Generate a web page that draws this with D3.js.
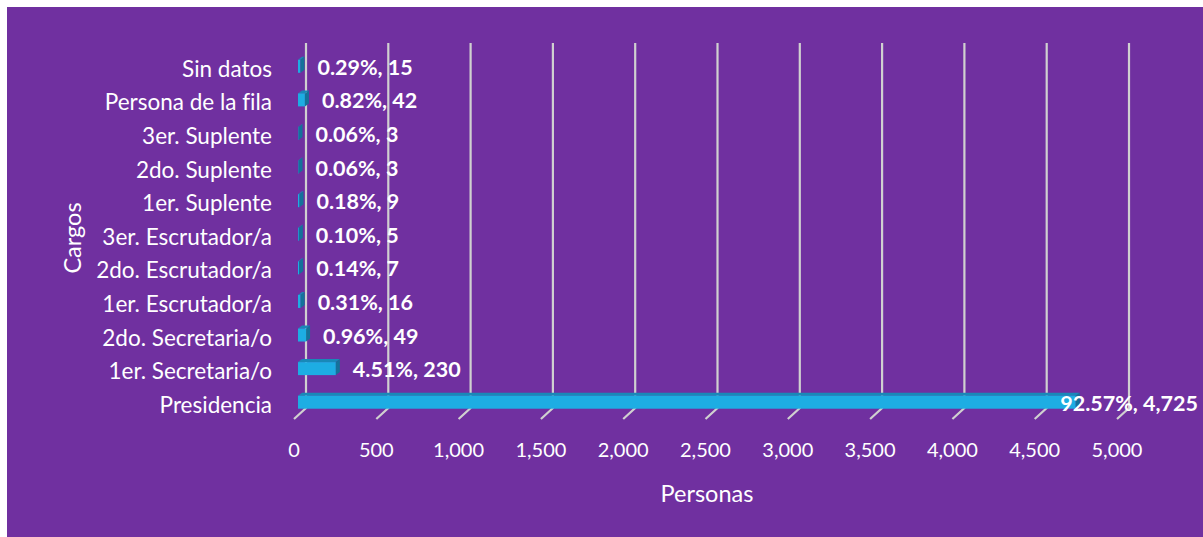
<!DOCTYPE html>
<html>
<head>
<meta charset="utf-8">
<script src="https://cdn.jsdelivr.net/npm/d3@7"></script>
<style>
  html, body { margin: 0; padding: 0; background: #ffffff; }
  svg { display: block; }
  text { font-family: Lato, "Open Sans", sans-serif; fill: #ffffff; font-variant-ligatures: none; font-feature-settings: "liga" 0; }
</style>
</head>
<body>
<svg id="chart" width="1203" height="537"></svg>
<script>
// ---- data ----
const categories = ["Sin datos", "Persona de la fila", "3er. Suplente", "2do. Suplente",
  "1er. Suplente", "3er. Escrutador/a", "2do. Escrutador/a", "1er. Escrutador/a",
  "2do. Secretaria/o", "1er. Secretaria/o", "Presidencia"];
const personas = [15, 42, 3, 3, 9, 5, 7, 16, 49, 230, 4725];
const xTicks = [0, 500, 1000, 1500, 2000, 2500, 3000, 3500, 4000, 4500, 5000];
const xTitle = "Personas";
const yTitle = "Cargos";

// ---- layout ----
const W = 1203, H = 537;
const svg = d3.select("#chart");
svg.append("rect").attr("x", 0).attr("y", 0).attr("width", W).attr("height", H).attr("fill", "#ffffff");
svg.append("rect").attr("x", 7).attr("y", 7).attr("width", W - 7).attr("height", H - 7).attr("fill", "#7030A0");

const x = d3.scaleLinear().domain([0, 5000]).range([0, 823]);
const y = d3.scaleBand().domain(categories).range([48, 417.5]).paddingInner(0).paddingOuter(0);

const backX = 306, frontX = 294, barX = 298;
const gridTop = 43, gridBottom = 408;
const depthX = 4, depthY = 3;   // bar 3D depth
const barH = 13;

const total = d3.sum(personas);
const pct = d3.format(".2%");
const num = d3.format(",");

// gridlines (back wall + floor stub)
const grid = svg.append("g");
xTicks.forEach(t => {
  const bx = backX + x(t);
  grid.append("path")
    .attr("d", `M${bx},${gridTop} L${bx},${gridBottom} L${bx - 12},${gridBottom + 11}`)
    .attr("fill", "none").attr("stroke", "#d0d0d0").attr("stroke-width", 2.2);
});

// tick labels
const ticks = svg.append("g");
xTicks.forEach(t => {
  ticks.append("text")
    .attr("x", frontX + x(t)).attr("y", 457)
    .attr("text-anchor", "middle")
    .style("font-size", "20px")
    .text(num(t));
});

// bars
const bars = svg.append("g");
categories.forEach((c, i) => {
  const v = personas[i];
  const cy = y(c) + y.bandwidth() / 2;
  const y0 = cy - barH / 2 + 1.5;
  const x0 = barX, x1 = barX + x(v);
  // top face
  bars.append("path")
    .attr("d", `M${x0},${y0} L${x0 + depthX},${y0 - depthY} L${x1 + depthX},${y0 - depthY} L${x1},${y0} Z`)
    .attr("fill", "#1889B8");
  // front face
  bars.append("rect")
    .attr("x", x0).attr("y", y0).attr("width", x(v)).attr("height", barH)
    .attr("fill", "#1DADE3");
  // side face
  bars.append("path")
    .attr("d", `M${x1},${y0} L${x1 + depthX},${y0 - depthY} L${x1 + depthX},${y0 + barH - depthY} L${x1},${y0 + barH} Z`)
    .attr("fill", "#14729A");
});

// category labels
const cats = svg.append("g");
categories.forEach(c => {
  cats.append("text")
    .attr("x", 272).attr("y", y(c) + y.bandwidth() / 2 + 3.5)
    .attr("text-anchor", "end").attr("dominant-baseline", "central")
    .style("font-size", "22.5px")
    .text(c);
});

// data labels
const labels = svg.append("g");
categories.forEach((c, i) => {
  const v = personas[i];
  const t = labels.append("text")
    .attr("y", y(c) + y.bandwidth() / 2 + 2)
    .attr("dominant-baseline", "central")
    .style("font-size", "21.5px").style("font-weight", "bold")
    .text(pct(v / total) + ", " + num(v));
  const w = t.node().getComputedTextLength();
  const pos = Math.min(barX + x(v) + depthX + 13, 1198 - w);
  t.attr("x", pos);
});

// axis titles
svg.append("text")
  .attr("x", 707).attr("y", 493)
  .attr("text-anchor", "middle").attr("dominant-baseline", "central")
  .style("font-size", "23.5px")
  .text(xTitle);
svg.append("text")
  .attr("transform", "translate(72,238) rotate(-90)")
  .attr("text-anchor", "middle").attr("dominant-baseline", "central")
  .style("font-size", "23.5px")
  .text(yTitle);
</script>
</body>
</html>
